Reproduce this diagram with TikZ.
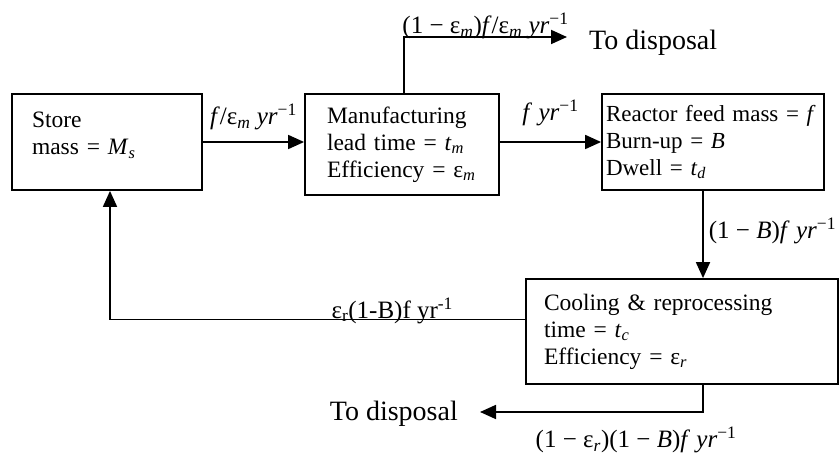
\documentclass[tikz,border=0pt]{standalone}
\usepackage{fontspec}
\setmainfont{Liberation Serif}
\usetikzlibrary{arrows.meta,positioning,calc}

\newcommand{\boxfont}{\fontsize{23.5}{27}\selectfont}
\newcommand{\lblfont}{\fontsize{25}{28}\selectfont}
\newcommand{\dispfont}{\fontsize{28}{32}\selectfont}
\newcommand{\isub}[1]{\textsubscript{\textit{#1}}}
\newcommand{\peryr}{\textit{yr}\textsuperscript{−1}}

\tikzset{
  blk/.style={rectangle,draw,line width=1.8pt,align=left,font=\boxfont,
              text width=#1,inner ysep=0pt},
  blk/.default=150pt,
  flow/.style={-{Triangle[length=16pt,width=14pt]},line width=1.8pt},
  lbl/.style={font=\lblfont,inner sep=3pt},
  disp/.style={font=\dispfont,inner sep=0pt},
}

\begin{document}
\begin{tikzpicture}[x=1pt,y=-1pt]
    \useasboundingbox (0,0) rectangle (840,454);

    \node[blk=150pt,inner xsep=20pt,minimum height=96pt] (store) at (107,142)
      {Store\\mass~=~\textit{M}\isub{s}\\[-10pt]\mbox{}};
    \node[blk=150pt,inner xsep=22pt,minimum height=101pt] (manuf) at (402,144.5)
      {Manufacturing\\lead~time~=~\textit{t}\isub{m}\\Efficiency~=~ε\isub{m}};
    \node[blk=214pt,inner xsep=4pt,minimum height=96pt,
          font=\fontsize{23}{27}\selectfont] (reactor) at (713,142)
      {Reactor~feed~mass~=~\textit{f}\\Burn-up~=~\textit{B}\\Dwell~=~\textit{t}\isub{d}};
    \node[blk=276pt,inner xsep=18pt,minimum height=105pt] (cool) at (682,331.5)
      {Cooling~\&~reprocessing\\time~=~\textit{t}\isub{c}\\Efficiency~=~ε\isub{r}};

    \coordinate (out1) at (567,37);
    \coordinate (out2) at (480,412);
    \coordinate (storein) at ([xshift=3pt]store.south);
    \node[disp,right=22pt of out1,yshift=-6pt] (dump1) {To disposal};
    \node[disp,left=22pt of out2,yshift=-2pt] (dump2) {To disposal};

    \draw[flow] (store.east) -- node[lbl,above=8pt]{\textit{f}/ε\isub{m} \peryr}
      (store.east -| manuf.west);
    \draw[flow] (reactor.west -| manuf.east) -- node[lbl,above=12pt]{\textit{f} \peryr}
      (reactor.west);
    \draw[flow] ([xshift=2pt]manuf.north) |-
      node[lbl,above,pos=0.75,inner sep=0pt,yshift=-3pt]
      {(1 − ε\isub{m})\textit{f}/ε\isub{m} \peryr} (out1);
    \draw[flow] ([xshift=-10pt]reactor.south) --
      node[lbl,right=2pt,yshift=4pt]{(1 − \textit{B})\textit{f} \peryr}
      ([xshift=-10pt]reactor.south |- cool.north);
    \draw[flow] ([yshift=12pt]cool.west) --
      node[lbl,above,pos=0.32,inner sep=0pt,yshift=-5pt]
      {ε\textsubscript{r}(1-B)f yr\textsuperscript{-1}}
      ([yshift=12pt]cool.west -| storein) -- (storein);
    \draw[flow] ([xshift=21pt]cool.south) |-
      node[lbl,below=11pt,pos=0.65]{(1 − ε\isub{r})(1 − \textit{B})\textit{f} \peryr}
      (out2);
\end{tikzpicture}
\end{document}
